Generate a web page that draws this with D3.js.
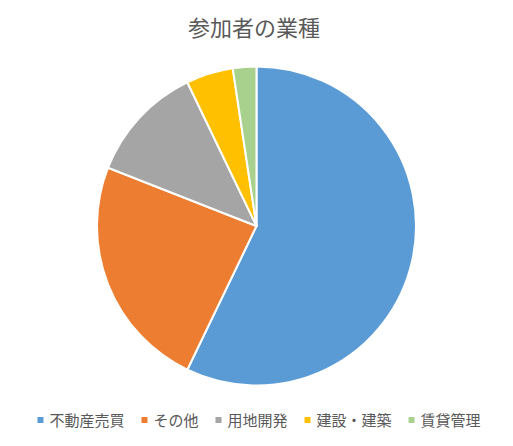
<!DOCTYPE html>
<html><head><meta charset="utf-8">
<script src="https://cdn.jsdelivr.net/npm/d3@7"></script>
<style>body{margin:0;background:#fff;} svg{display:block;}</style>
</head><body>
<svg id="c" width="513" height="446"></svg>
<script>
const title = "参加者の業種";
const categories = ["不動産売買", "その他", "用地開発", "建設・建築", "賃貸管理"];
const values = [24, 10, 5, 2, 1];
const colors = ["#5B9BD5", "#ED7D31", "#A5A5A5", "#FFC000", "#A9D18E"];

const svg = d3.select("#c");
const W = 513, H = 446;
const font = "'Noto Sans CJK JP', 'Noto Sans', sans-serif";
svg.append("rect").attr("width", W).attr("height", H).attr("fill", "#fff");

svg.append("text").attr("x", 254).attr("y", 36).attr("text-anchor", "middle")
  .attr("font-family", font).attr("font-size", 22).attr("fill", "#595959").text(title);

const cx = 256.5, cy = 226, r = 159.5;
const pie = d3.pie().sort(null).value(d => d.v);
const arc = d3.arc().innerRadius(0).outerRadius(r);
const data = categories.map((c, i) => ({c, v: values[i], col: colors[i]}));
svg.append("g").attr("transform", `translate(${cx},${cy})`)
  .selectAll("path").data(pie(data)).join("path")
  .attr("d", arc).attr("fill", d => d.data.col)
  .attr("stroke", "#fff").attr("stroke-width", 2).attr("stroke-linejoin", "round");

// legend
const lg = svg.append("g");
const fs = 15, ms = 6, mgap = 6, igap = 17;
const items = lg.selectAll("g").data(data).join("g");
items.append("rect").attr("width", ms).attr("height", ms).attr("y", -ms/2 - 0).attr("fill", d => d.col);
items.append("text").attr("x", ms + mgap).attr("y", 5.5)
  .attr("font-family", font).attr("font-size", fs).attr("fill", "#595959").text(d => d.c);
let x = 0; const pos = [];
items.each(function(d){
  const w = d3.select(this).select("text").node().getComputedTextLength();
  pos.push(x); x += ms + mgap + w + igap;
});
const total = x - igap;
const x0 = 259 - total / 2;
items.attr("transform", (d, i) => `translate(${x0 + pos[i]},420)`);
</script>
</body></html>
